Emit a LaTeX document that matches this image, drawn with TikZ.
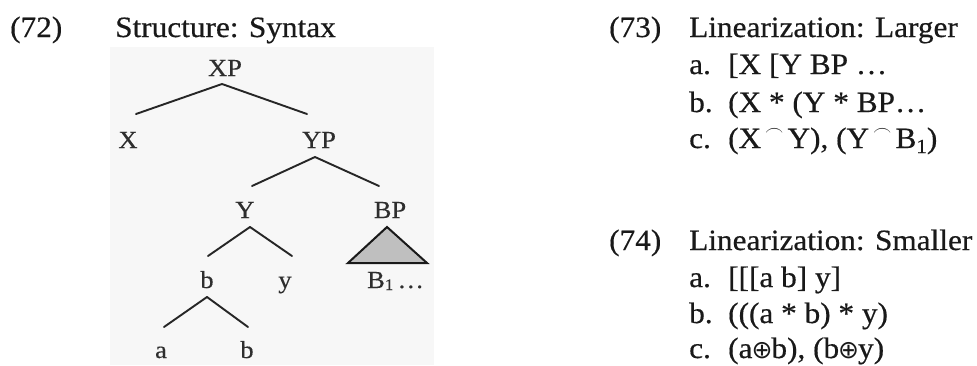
\documentclass[tikz,border=0pt]{standalone}
\usepackage{fontspec}
\setmainfont{Liberation Serif}[FakeStretch=1.06, FakeBold=0.5]
\newfontfamily\treefont{Liberation Serif}[FakeStretch=1.08, FakeBold=0.3]
\newfontfamily\symbolfont{DejaVu Sans}
\newcommand{\tie}{\hspace{4pt}\raisebox{13pt}{\scalebox{1.3}{$\scriptscriptstyle\frown$}}\hspace{4pt}}
\newcommand{\lowone}{\raisebox{-5pt}{\fontsize{20}{22}\selectfont 1}}
\newcommand{\circplus}{\hspace{-1pt}{\symbolfont\fontsize{25}{26}\selectfont ⊕}\hspace{-1pt}}

\begin{document}
\begin{tikzpicture}[x=1pt,y=-1pt,
  lbl/.style={anchor=base west, inner sep=0pt, font=\fontsize{29.5}{34}\selectfont, text=black!90},
  tnode/.style={anchor=base, inner sep=0pt, font=\treefont\fontsize{24.5}{26}\selectfont, text=black!82},
  branch/.style={line width=1.9pt, draw=black!85, line cap=round, line join=round}]
\useasboundingbox (0,0) rectangle (977,365);

% panel behind the tree
\fill[black!3] (110,47) rectangle (434,365);

% ---- (72) heading ----
\node[lbl] (n72) at (10,37) {(72)};
\node[lbl] (t72) at (115,37) {Structure: Syntax};

% ---- tree labels ----
\node[tnode] (XP) at (225,76) {XP};
\node[tnode] (X)  at (128,148) {X};
\node[tnode] (YP) at (319,148) {YP};
\node[tnode] (Y)  at (245,218) {Y};
\node[tnode] (BP) at (390,218) {BP};
\node[tnode] (b1) at (207,288) {b};
\node[tnode] (y)  at (285,288) {y};
\node[tnode, anchor=base west] (B1) at (367,288) {B\raisebox{-2pt}{\fontsize{16}{17}\selectfont 1}\,\dots};
\node[tnode] (a)  at (161,358) {a};
\node[tnode] (b2) at (247,358) {b};

% branch end points
\coordinate (XPd) at (222,84);  \coordinate (Xu)  at (136,114); \coordinate (YPu) at (307,114);
\coordinate (YPd) at (315,157); \coordinate (Yu)  at (252,186); \coordinate (BPu) at (379,186);
\coordinate (Yd)  at (250,227); \coordinate (bu)  at (208,256); \coordinate (yu)  at (292,256);
\coordinate (bd)  at (207,297); \coordinate (au)  at (164,327); \coordinate (b2u) at (248,327);

\draw[branch] (Xu) -- (XPd) -- (YPu);
\draw[branch] (Yu) -- (YPd) -- (BPu);
\draw[branch] (bu) -- (Yd) -- (yu);
\draw[branch] (au) -- (bd) -- (b2u);

% triangle under BP
\coordinate (tA) at (387,227); \coordinate (tL) at (348,263); \coordinate (tR) at (427,263);
\filldraw[fill=black!25, draw=black!90, line width=2pt, line join=miter] (tA) -- (tL) -- (tR) -- cycle;

% ---- (73) ----
\node[lbl] (n73) at (609,37) {(73)};
\node[lbl] (t73) at (689,37) {Linearization: Larger};
\node[lbl] (a73) at (689,74) {a.};
\node[lbl] (a73t) at (728,74) {[X [Y BP \dots};
\node[lbl] (b73) at (689,112) {b.};
\node[lbl] (b73t) at (728,112) {(X * (Y * BP\dots};
\node[lbl] (c73) at (689,148) {c.};
\node[lbl] (c73t) at (728,148) {(X\tie Y), (Y\tie B\lowone)};

% ---- (74) ----
\node[lbl] (n74) at (609,250) {(74)};
\node[lbl] (t74) at (689,250) {Linearization: Smaller};
\node[lbl] (a74) at (689,287) {a.};
\node[lbl] (a74t) at (728,287) {[[[a b] y]};
\node[lbl] (b74) at (689,323) {b.};
\node[lbl] (b74t) at (728,323) {(((a * b) * y)};
\node[lbl] (c74) at (689,358) {c.};
\node[lbl] (c74t) at (728,358) {(a\circplus b), (b\circplus y)};
\end{tikzpicture}
\end{document}
